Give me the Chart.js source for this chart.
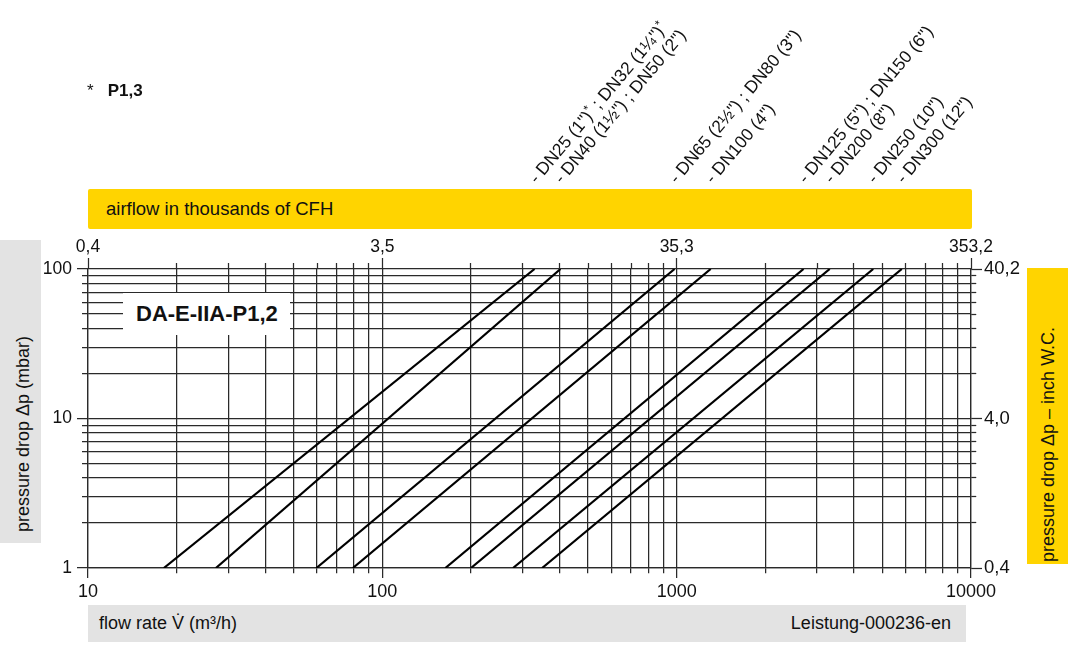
<!DOCTYPE html>
<html>
<head>
<meta charset="utf-8">
<script src="https://cdn.jsdelivr.net/npm/chart.js@4.4.1/dist/chart.umd.min.js"></script>
<style>
html,body{margin:0;padding:0;background:#fff;}
#wrap{position:relative;width:1068px;height:648px;overflow:hidden;font-family:"Liberation Sans",Arial,sans-serif;color:#111;}
#c{position:absolute;left:0;top:0;}
.abs{position:absolute;white-space:nowrap;}
.rot{position:absolute;white-space:nowrap;font-size:17.5px;height:20px;line-height:20px;transform-origin:0 100%;transform:rotate(-50deg);}
.rot sup{font-size:12px;line-height:0;vertical-align:6px;}
.vtxt{position:absolute;white-space:nowrap;font-size:18px;height:20px;line-height:20px;transform-origin:0 0;transform:rotate(-90deg);}
</style>
</head>
<body>
<div id="wrap">
<canvas id="c" width="1068" height="648"></canvas>
<div class="abs" style="left:87px;top:81px;font-size:17px;line-height:20px;">*<b style="margin-left:14px;">P1,3</b></div>
<div class="abs" style="left:88px;top:189px;width:884px;height:40px;background:#FFD400;border-radius:2px;font-size:18.5px;line-height:40px;"><span style="margin-left:18px;">airflow in thousands of CFH</span></div>
<div class="abs" style="left:0;top:240px;width:41px;height:303px;background:#E3E3E3;"></div>
<div class="vtxt" style="left:13px;top:532px;">pressure drop Δp (mbar)</div>
<div class="abs" style="left:1027px;top:268px;width:41px;height:296px;background:#FFD400;"></div>
<div class="vtxt" style="left:1038px;top:562px;">pressure drop Δp – inch W.C.</div>
<div class="abs" style="left:88px;top:605px;width:878px;height:37px;background:#E3E3E3;font-size:18px;line-height:37px;">
  <span style="position:absolute;left:11px;">flow rate V&#775; (m³/h)</span>
  <span style="position:absolute;right:15px;">Leistung-000236-en</span>
</div>
<div class="abs" style="left:123px;top:293px;width:167px;height:42px;background:#fff;font-size:22px;font-weight:bold;line-height:42px;"><span style="margin-left:13px;">DA-E-IIA-P1,2</span></div>
<div id="labels"></div>
</div>
<script>
// ---- data ----
const sizeLabels = [
  '- DN25 (1")<sup>*</sup> ; DN32 (1¼")<sup>*</sup>',
  '- DN40 (1½") ; DN50 (2")',
  '- DN65 (2½") ; DN80 (3")',
  '- DN100 (4")',
  '- DN125 (5") ; DN150 (6")',
  '- DN200 (8")',
  '- DN250 (10")',
  '- DN300 (12")'
];
const pressureLow = 1;     // mbar, start of each curve
const pressureHigh = 100;  // mbar, end of each curve
const flowAtLow  = [18.1, 27.2, 59.7, 79.4, 163.7, 200, 278, 349];      // m3/h at 1 mbar
const flowAtHigh = [329, 403, 984, 1305, 2698, 3311, 4655, 5820];       // m3/h at 100 mbar

const flowGridTicks = [10,20,30,40,50,60,70,80,90,100,200,300,400,500,600,700,800,900,
                       1000,2000,3000,4000,5000,6000,7000,8000,9000,10000];
const pressureGridTicks = [1,2,3,4,5,6,7,8,9,10,20,30,40,50,60,70,80,90,100];
const flowMajor = [10, 100, 1000, 10000];
const flowLabels = ['10', '100', '1000', '10000'];
const cfhLabels = ['0,4', '3,5', '35,3', '353,2'];
const mbarMajor = [1, 10, 100];
const mbarLabels = ['1', '10', '100'];
const inchLabels = ['0,4', '4,0', '40,2'];

// ---- chart ----
const FONT = '"Liberation Sans", Arial, sans-serif';
const GRID = '#2a2a2a';
Chart.defaults.font.family = FONT;
Chart.defaults.color = '#111';

const datasets = flowAtLow.map((f, i) => ({
  label: sizeLabels[i],
  data: [{x: f, y: pressureLow}, {x: flowAtHigh[i], y: pressureHigh}],
  showLine: true,
  borderColor: '#000',
  borderWidth: 2.2,
  pointRadius: 0,
  pointHoverRadius: 0,
  fill: false
}));

const isMaj = (arr, v) => arr.indexOf(v) >= 0;
const setTicks = arr => s => { s.ticks = arr.map(v => ({value: v})); };

const chart = new Chart(document.getElementById('c'), {
  type: 'scatter',
  data: {datasets},
  options: {
    responsive: false,
    animation: false,
    events: [],
    layout: {padding: 0},
    plugins: {legend: {display: false}, tooltip: {enabled: false}},
    scales: {
      x: {
        type: 'logarithmic', position: 'bottom', min: 10, max: 10000,
        afterBuildTicks: setTicks(flowGridTicks),
        afterFit: s => { s.height = 80; },
        grid: {
          color: GRID, lineWidth: 1.25, drawTicks: true, tickLength: 10,
          tickColor: GRID, tickWidth: 1.25,
          tickBorderDash: ctx => (ctx.tick && isMaj(flowMajor, ctx.tick.value)) ? [] : [5, 100]
        },
        border: {display: true, color: GRID, width: 1.25},
        ticks: {
          autoSkip: false, maxRotation: 0, minRotation: 0, padding: 3,
          font: {size: 18}, color: '#111',
          callback: v => { const i = flowMajor.indexOf(v); return i >= 0 ? flowLabels[i] : ''; }
        }
      },
      x2: {
        type: 'logarithmic', position: 'top', min: 10, max: 10000,
        afterBuildTicks: setTicks(flowGridTicks),
        afterFit: s => { s.height = 269; },
        grid: {
          drawOnChartArea: false, drawTicks: true, tickLength: 11,
          tickColor: GRID, tickWidth: 1.25,
          tickBorderDash: ctx => (ctx.tick && isMaj(flowMajor, ctx.tick.value)) ? [] : [0, 5, 6, 100]
        },
        border: {display: false},
        ticks: {
          autoSkip: false, maxRotation: 0, minRotation: 0, padding: 0,
          font: {size: 17.5}, color: '#111',
          callback: v => { const i = flowMajor.indexOf(v); return i >= 0 ? cfhLabels[i] : ''; }
        }
      },
      y: {
        type: 'logarithmic', position: 'left', min: 1, max: 100,
        afterBuildTicks: setTicks(pressureGridTicks),
        afterFit: s => { s.width = 88; },
        grid: {
          color: GRID, lineWidth: 1.25, drawTicks: true, tickLength: 11,
          tickColor: GRID, tickWidth: 1.25,
          tickBorderDash: ctx => (ctx.tick && isMaj(mbarMajor, ctx.tick.value)) ? [] : [0, 5, 6, 100]
        },
        border: {display: true, color: GRID, width: 1.25},
        ticks: {
          autoSkip: false, padding: 5, font: {size: 17.5}, color: '#111',
          callback: v => { const i = mbarMajor.indexOf(v); return i >= 0 ? mbarLabels[i] : ''; }
        }
      },
      y2: {
        type: 'logarithmic', position: 'right', min: 1, max: 100,
        afterBuildTicks: setTicks(pressureGridTicks),
        afterFit: s => { s.width = 97; },
        grid: {
          drawOnChartArea: false, drawTicks: true, tickLength: 11,
          tickColor: GRID, tickWidth: 1.25,
          tickBorderDash: ctx => (ctx.tick && isMaj(mbarMajor, ctx.tick.value)) ? [] : [5, 100]
        },
        border: {display: true, color: GRID, width: 1.25},
        ticks: {
          autoSkip: false, padding: 2, font: {size: 18.5}, color: '#111',
          callback: v => { const i = mbarMajor.indexOf(v); return i >= 0 ? inchLabels[i] : ''; }
        }
      }
    }
  }
});

// ---- rotated size labels anchored at the top end of each curve ----
const holder = document.getElementById('labels');
const xs = chart.scales.x;
sizeLabels.forEach((txt, i) => {
  const d = document.createElement('div');
  d.className = 'rot';
  d.innerHTML = txt;
  const px = xs.getPixelForValue(flowAtHigh[i]) + 5;
  d.style.left = px + 'px';
  d.style.top = (187 - 20) + 'px';
  holder.appendChild(d);
});
</script>
</body>
</html>
